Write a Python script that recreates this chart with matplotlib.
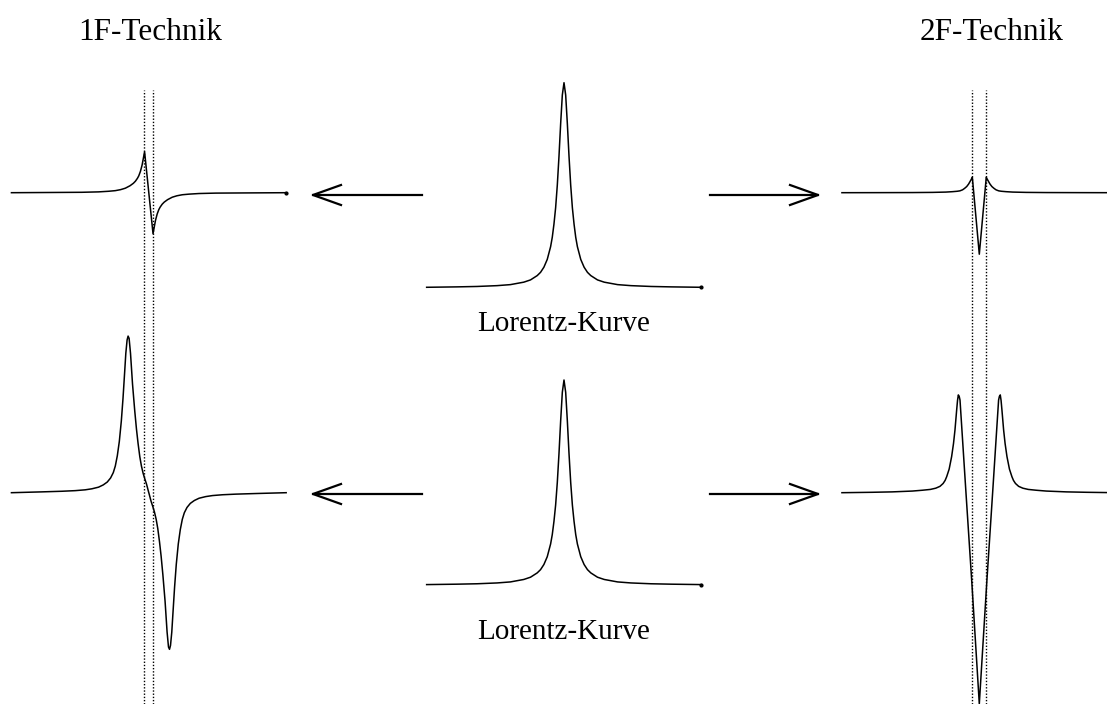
import matplotlib
matplotlib.use('Agg')
import matplotlib.pyplot as plt

# detuning in units of the Lorentz half width, signal in units of the Lorentz peak
lorentz_u = [-20.5, -16, -13, -10, -8, -6, -5, -4, -3.5, -3, -2.5, -2, -1.75, -1.5, -1.25, -1, -0.75,
             -0.5, -0.25, 0, 0.25, 0.5, 0.75, 1, 1.25, 1.5, 1.75, 2, 2.5, 3, 3.5, 4, 5, 6, 8, 10,
             13, 16, 20.5]
lorentz_y = [0.002, 0.004, 0.006, 0.01, 0.015, 0.027, 0.038, 0.059, 0.075, 0.10, 0.138, 0.20, 0.246,
             0.31, 0.39, 0.50, 0.64, 0.80, 0.94, 1.0, 0.94, 0.80, 0.64, 0.50, 0.39, 0.31, 0.246, 0.20,
             0.138, 0.10, 0.075, 0.059, 0.038, 0.027, 0.015, 0.01, 0.006, 0.004, 0.002]

# 1F signal, small modulation
f1_small_u = [-20.5, -15, -10, -7.5, -6, -5, -4.2, -3.5, -2.8, -2.3, -2.0, -1.7, -1.5, -1.25, -1.0,
              -0.8, -0.63, 0.63, 0.8, 1.0, 1.25, 1.5, 1.7, 2.0, 2.3, 2.8, 3.5, 4.2, 5, 6, 7.5, 10,
              15, 20.5]
f1_small_y = [0.0, 0.001, 0.002, 0.004, 0.007, 0.010, 0.015, 0.022, 0.034, 0.046, 0.056, 0.070, 0.082,
              0.104, 0.135, 0.17, 0.2, -0.2, -0.17, -0.135, -0.104, -0.082, -0.070, -0.056, -0.046,
              -0.034, -0.022, -0.015, -0.010, -0.007, -0.004, -0.002, -0.001, 0.0]

# 2F signal, small modulation
f2_small_u = [-20.5, -15, -10, -7, -5, -4, -3.3, -2.9, -2.5, -2.2, -1.88, -1.6, -1.39, -1.2, -1.04, 0,
              1.04, 1.2, 1.39, 1.6, 1.88, 2.2, 2.5, 2.9, 3.3, 4, 5, 7, 10, 15, 20.5]
f2_small_y = [0, 0.0003, 0.0007, 0.0015, 0.003, 0.005, 0.007, 0.009, 0.014, 0.021, 0.030, 0.042, 0.054,
              0.065, 0.075, -0.30, 0.075, 0.065, 0.054, 0.042, 0.030, 0.021, 0.014, 0.009, 0.007, 0.005,
              0.003, 0.0015, 0.0007, 0.0003, 0]

# 1F signal, large modulation
f1_large_u = [-20.5, -16, -13, -11, -9.5, -8.5, -7.5, -6.8, -6.2, -5.7, -5.3, -5.0, -4.7, -4.4, -4.1,
              -3.85, -3.6, -3.43, -3.24, -3.09, -2.94, -2.73, -2.43, -2.1, -1.84, -1.6, -1.34, -1.1,
              -0.85, -0.6, -0.34, -0.1, 0.1, 0.34, 0.6, 0.85, 1.1, 1.34, 1.6, 1.84, 2.1, 2.43, 2.73,
              2.94, 3.09, 3.24, 3.43, 3.6, 3.85, 4.1, 4.4, 4.7, 5.0, 5.3, 5.7, 6.2, 6.8, 7.5, 8.5, 9.5,
              11, 13, 16, 20.5]
f1_large_y = [0.0, 0.004, 0.007, 0.010, 0.014, 0.019, 0.027, 0.038, 0.052, 0.072, 0.098, 0.13, 0.18,
              0.25, 0.35, 0.46, 0.59, 0.68, 0.745, 0.764, 0.753, 0.68, 0.53, 0.40, 0.31, 0.24, 0.175,
              0.13, 0.095, 0.068, 0.042, 0.012, -0.012, -0.042, -0.068, -0.095, -0.13, -0.175, -0.24,
              -0.31, -0.40, -0.53, -0.68, -0.753, -0.764, -0.745, -0.68, -0.59, -0.46, -0.35, -0.25,
              -0.18, -0.13, -0.098, -0.072, -0.052, -0.038, -0.027, -0.019, -0.014, -0.010, -0.007,
              -0.004, 0.0]

# 2F signal, large modulation
f2_large_u = [-20.5, -16, -13, -10, -8.5, -7.3, -6.5, -5.87, -5.4, -5.1, -4.87, -4.5, -4.13, -3.85,
              -3.63, -3.38, -3.25, -3.13, -3.0, -2.88, -1.99, -1.13, 0, 1.13, 1.99, 2.88, 3.0, 3.13,
              3.25, 3.38, 3.63, 3.85, 4.13, 4.5, 4.87, 5.1, 5.4, 5.87, 6.5, 7.3, 8.5, 10, 13, 16, 20.5]
f2_large_y = [0.0, 0.002, 0.004, 0.008, 0.012, 0.016, 0.022, 0.031, 0.045, 0.06, 0.078, 0.115, 0.176,
              0.24, 0.306, 0.403, 0.45, 0.477, 0.47, 0.452, 0.0, -0.43, -1.03, -0.43, 0.0, 0.452, 0.47,
              0.477, 0.45, 0.403, 0.306, 0.24, 0.176, 0.115, 0.078, 0.06, 0.045, 0.031, 0.022, 0.016,
              0.012, 0.008, 0.004, 0.002, 0.0]

# detuning of the dotted markers
marks_1f = [-0.67, 0.67]
marks_2f = [-1.04, 1.04]

titles = ['1F-Technik', '2F-Technik']
curve_label = 'Lorentz-Kurve'

W, H = 1107, 704
SX, SY = 6.7, 205.0   # pixels per unit detuning / per unit signal

plt.rcParams['font.family'] = ['Liberation Serif', 'DejaVu Serif']
fig = plt.figure(figsize=(W / 100, H / 100), dpi=100)


def panel(cx, yb):
    '''Transparent full-figure axes with its origin at pixel (cx, yb)'''
    ax = fig.add_axes([0, 0, 1, 1])
    ax.set_xlim(-cx / SX, (W - cx) / SX)
    ax.set_ylim(-(H - yb) / SY, yb / SY)
    ax.axis('off')
    ax.patch.set_alpha(0)
    return ax


def curve(ax, u, y, end_dot=False):
    ax.plot(u, y, color='black', lw=1.1, solid_joinstyle='round')
    if end_dot:
        ax.plot(u[-1], y[-1], 'o', color='black', ms=2)


col_x = [148.8, 564.0, 979.3]
rows = [(192.7, 287.7, 324), (492.7, 585.0, 632)]

for i, (side_y, mid_y, label_y) in enumerate(rows):
    ax_l = panel(col_x[0], side_y)
    curve(ax_l, f1_small_u if i == 0 else f1_large_u,
          f1_small_y if i == 0 else f1_large_y, end_dot=(i == 0))
    ax_m = panel(col_x[1], mid_y)
    curve(ax_m, lorentz_u, lorentz_y, end_dot=True)
    ax_r = panel(col_x[2], side_y)
    curve(ax_r, f2_small_u if i == 0 else f2_large_u,
          f2_small_y if i == 0 else f2_large_y)

    if i == 0:
        for ax, marks in [(ax_l, marks_1f), (ax_r, marks_2f)]:
            for m in marks:
                ax.axvline(m, ymin=0, ymax=(H - 90) / H, color='black', lw=1.0,
                           ls=(0, (1, 1.3)))

    fig.text(col_x[1] / W, 1 - label_y / H, curve_label, ha='center', va='center',
             fontsize=21)

# arrows drawn in pixel coordinates
arr = fig.add_axes([0, 0, 1, 1])
arr.set_xlim(0, W)
arr.set_ylim(H, 0)
arr.axis('off')
arr.patch.set_alpha(0)
for ay in [195, 494]:
    for tail, tip in [(422, 313), (710, 818)]:
        d = 1 if tip > tail else -1
        arr.plot([tail, tip], [ay, ay], color='black', lw=1.6)
        arr.plot([tip - d * 28, tip, tip - d * 28], [ay - 10, ay, ay + 10], color='black', lw=1.6)

fig.text(150 / W, 1 - 32 / H, titles[0], ha='center', va='center', fontsize=22.5)
fig.text(992 / W, 1 - 32 / H, titles[1], ha='center', va='center', fontsize=22.5)

fig.savefig('out.png', dpi=100)
